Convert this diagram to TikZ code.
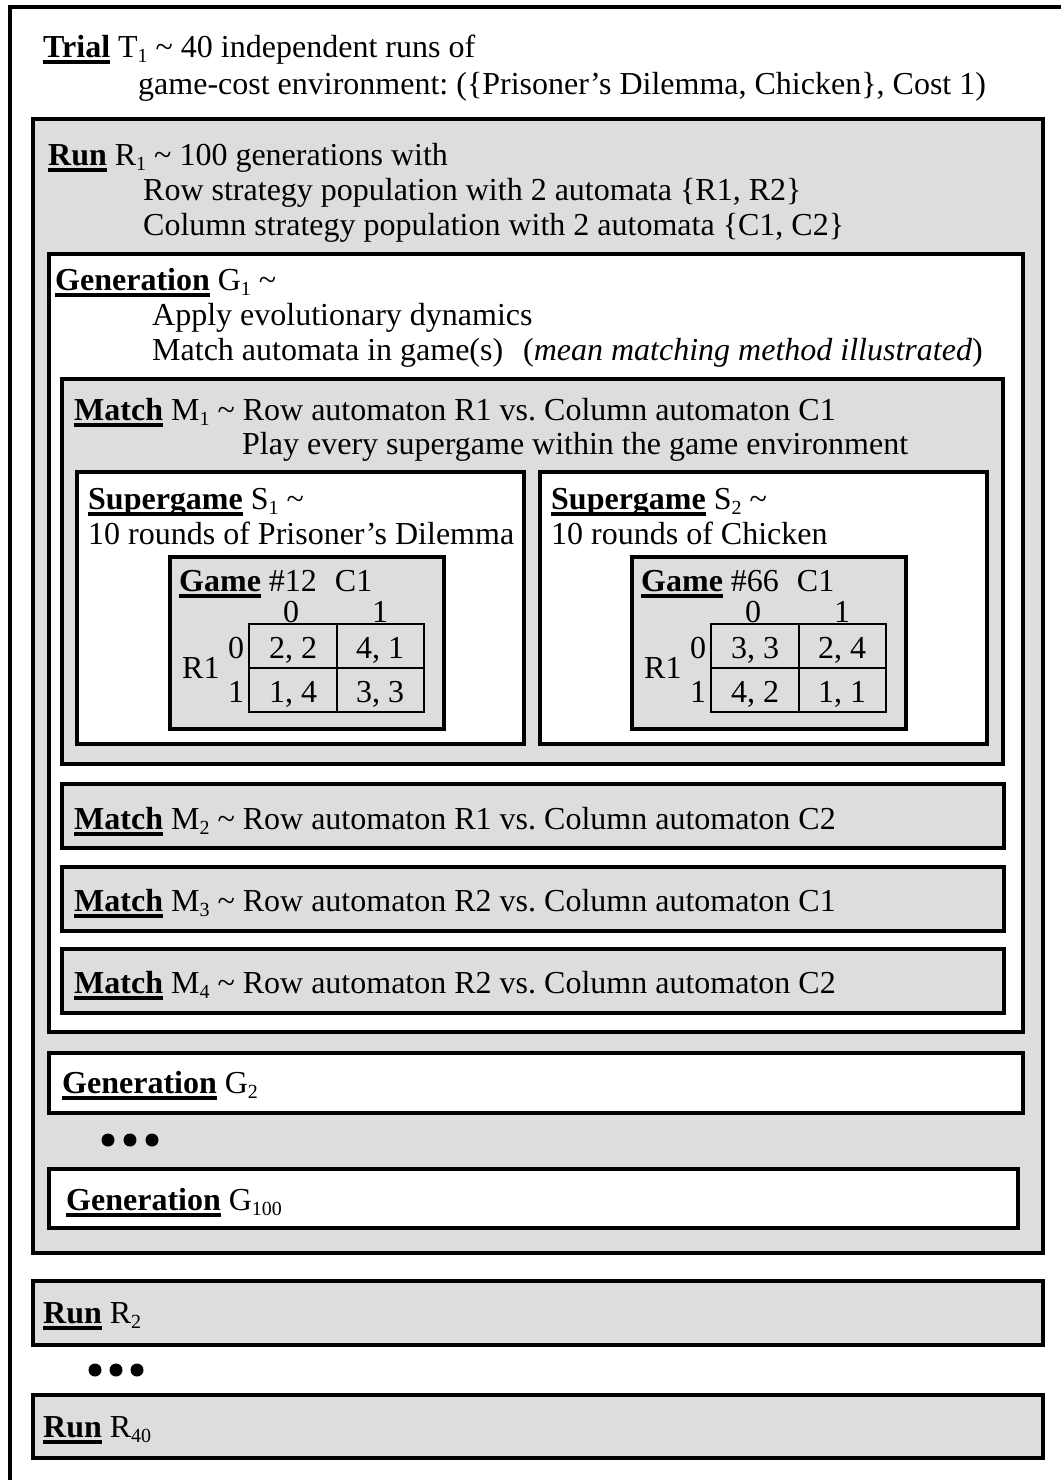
\documentclass[tikz,border=0pt]{standalone}
\usepackage{fontspec}
\setmainfont{Liberation Serif}
\definecolor{boxgray}{RGB}{221,221,221}
\frenchspacing
\newsavebox{\hdbox}
% bold underlined heading word
\newcommand{\hd}[1]{\sbox\hdbox{\textbf{#1}}\rlap{\rule[-6.5pt]{\wd\hdbox}{4pt}}\usebox\hdbox}
\newcommand{\subs}[1]{\raisebox{-5pt}{\fontsize{20}{20}\selectfont #1}}
\newcommand{\tld}{\textasciitilde}
\begin{document}
\begin{tikzpicture}[x=1pt,y=-1pt,
    graybox/.style={draw=black,line width=4pt,fill=boxgray},
    whitebox/.style={draw=black,line width=4pt,fill=white},
    txt/.style={anchor=base west,inner sep=0pt,font=\fontsize{32}{37}\selectfont},
    cell/.style={anchor=base,inner sep=0pt,font=\fontsize{32}{37}\selectfont}]
  \fill[white] (0,0) rectangle (1060,1480);
  \useasboundingbox (0,0) rectangle (1060,1480);
  % trial
  \draw[line width=4.5pt] (10,7) rectangle (1100,1510);
  \node[txt] (trial1) at (43,58) {\hd{Trial} T\subs{1} \tld{} 40 independent runs of};
  \node[txt] (trial2) at (138,95) {game-cost environment: (\{Prisoner's Dilemma, Chicken\}, Cost 1)};
  % run 1
  \draw[graybox] (33,119) rectangle (1043,1253);
  \node[txt] (run1a) at (48,165) {\hd{Run} R\subs{1} \tld{} 100 generations with};
  \node[txt] (run1b) at (143,200) {Row strategy population with 2 automata \{R1, R2\}};
  \node[txt] (run1c) at (143,235) {Column strategy population with 2 automata \{C1, C2\}};
  % generation 1
  \draw[whitebox] (49,254) rectangle (1023,1032);
  \node[txt] (gen1a) at (55,290) {\hd{Generation} G\subs{1} \tld};
  \node[txt] (gen1b) at (152,325) {Apply evolutionary dynamics};
  \node[txt] (gen1c) at (152,360) {Match automata in game(s)\hspace{20pt}(\textit{mean matching method illustrated})};
  % match 1
  \draw[graybox] (62,379) rectangle (1003,764);
  \node[txt] (match1a) at (74,420) {\hd{Match} M\subs{1} \tld{} Row automaton R1 vs. Column automaton C1};
  \node[txt] (match1b) at (242,454) {Play every supergame within the game environment};
  % supergames
  \draw[whitebox] (77,472) rectangle (524,744);
  \node[txt] (sg1a) at (88,509) {\hd{Supergame} S\subs{1} \tld};
  \node[txt] (sg1b) at (88,544) {10 rounds of Prisoner's Dilemma};
  \draw[whitebox] (540,472) rectangle (987,744);
  \node[txt] (sg2a) at (551,509) {\hd{Supergame} S\subs{2} \tld};
  \node[txt] (sg2b) at (551,544) {10 rounds of Chicken};
  % games
  \foreach \g/\dx/\num/\a/\b/\c/\d in {pd/0/12/{2, 2}/{4, 1}/{1, 4}/{3, 3},ch/462/66/{3, 3}/{2, 4}/{4, 2}/{1, 1}}{
    \begin{scope}[xshift=\dx]
      \draw[graybox] (170,557) rectangle (444,729);
      \node[txt] (\g-title) at (179,591) {\hd{Game} \#\num\hspace{18pt}C1};
      \node[cell] (\g-c0) at (291,622) {0};
      \node[cell] (\g-c1) at (380,622) {1};
      \draw[line width=1.5pt] (249,624) rectangle (424,712) (337,624) -- (337,712) (249,668) -- (424,668);
      \node[cell] (\g-r0) at (236,658) {0};
      \node[cell] (\g-r1) at (236,702) {1};
      \node[txt] (\g-row) at (182,678) {R1};
      \node[cell] (\g-00) at (293,658) {\a};
      \node[cell] (\g-01) at (380,658) {\b};
      \node[cell] (\g-10) at (293,702) {\c};
      \node[cell] (\g-11) at (380,702) {\d};
    \end{scope}
  }
  % matches 2 to 4
  \foreach \m/\r/\c [count=\i from 0] in {2/1/2,3/2/1,4/2/2}{
    \draw[graybox] (62,784+82.5*\i) rectangle (1004,848+82.5*\i);
    \node[txt] (match\m) at (74,829+82*\i) {\hd{Match} M\subs{\m} \tld{} Row automaton R\r{} vs. Column automaton C\c};
  }
  % later generations
  \draw[whitebox] (49,1053) rectangle (1023,1113);
  \node[txt] (gen2) at (62,1093) {\hd{Generation} G\subs{2}};
  \fill (108,1140) circle (6.5pt) (130,1140) circle (6.5pt) (152,1140) circle (6.5pt);
  \draw[whitebox] (49,1169) rectangle (1018,1228);
  \node[txt] (gen100) at (66,1210) {\hd{Generation} G\subs{100}};
  % later runs
  \draw[graybox] (33,1281) rectangle (1043,1345);
  \node[txt] (run2) at (43,1323) {\hd{Run} R\subs{2}};
  \fill (95,1370) circle (6.5pt) (116,1370) circle (6.5pt) (137,1370) circle (6.5pt);
  \draw[graybox] (33,1395) rectangle (1043,1458);
  \node[txt] (run40) at (43,1437) {\hd{Run} R\subs{40}};
\end{tikzpicture}
\end{document}
